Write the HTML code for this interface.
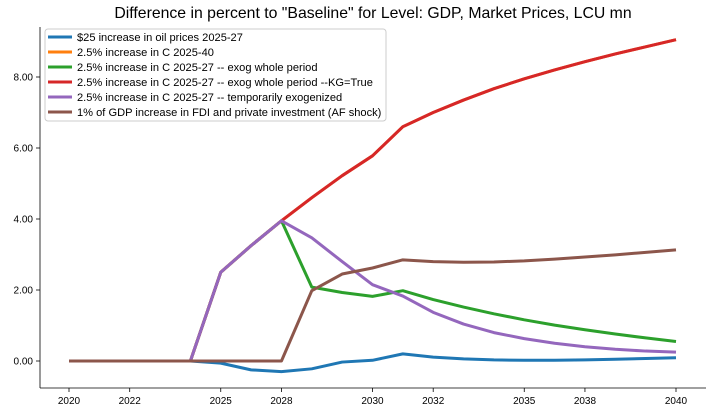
<!DOCTYPE html>
<html><head><meta charset="utf-8"><style>
body{margin:0;background:#fff;}
svg text{font-family:"Liberation Sans",sans-serif;}
</style></head><body>
<svg id="chart" width="712" height="413" xmlns="http://www.w3.org/2000/svg">
<text x="373" y="18" text-anchor="middle" font-size="15.8" fill="#000">Difference in percent to "Baseline" for Level: GDP, Market Prices, LCU mn</text>
<g id="axes"></g>
<g id="series"></g>
<g id="legend"></g>
</svg>
<script>
const years=[2020,2021,2022,2023,2024,2025,2026,2027,2028,2029,2030,2031,2032,2033,2034,2035,2036,2037,2038,2039,2040];
const yTicks=[0,2,4,6,8];
const yTickLabels=["0.00","2.00","4.00","6.00","8.00"];
const xTickVals=[2020,2022,2025,2027,2030,2032,2035,2037,2040];
const xTickLabels=["2020","2022","2025","2028","2030","2032","2035","2038","2040"];
const seriesNames=["$25 increase in oil prices 2025-27","2.5% increase in C 2025-40","2.5% increase in C 2025-27 -- exog whole period","2.5% increase in C 2025-27 -- exog whole period --KG=True","2.5% increase in C 2025-27 -- temporarily exogenized","1% of GDP increase in FDI and private investment (AF shock)"];
const oil=[0,0,0,0,0,-0.06,-0.25,-0.3,-0.22,-0.03,0.02,0.2,0.11,0.06,0.03,0.02,0.02,0.03,0.05,0.07,0.09];
const cLong=[0,0,0,0,0,2.5,3.25,3.95,4.6,5.22,5.78,6.6,7.0,7.35,7.67,7.95,8.2,8.43,8.65,8.85,9.05];
const cExog=[0,0,0,0,0,2.5,3.25,3.95,2.08,1.93,1.82,1.98,1.73,1.52,1.33,1.16,1.01,0.88,0.76,0.65,0.55];
const cKG=[0,0,0,0,0,2.5,3.25,3.95,4.6,5.22,5.78,6.6,7.0,7.35,7.67,7.95,8.2,8.43,8.65,8.85,9.05];
const cTemp=[0,0,0,0,0,2.5,3.25,3.95,3.47,2.8,2.15,1.83,1.37,1.04,0.8,0.63,0.5,0.4,0.33,0.28,0.25];
const fdi=[0,0,0,0,0,0,0,0,1.98,2.45,2.62,2.85,2.8,2.78,2.79,2.82,2.87,2.93,2.99,3.06,3.13];
const colors=["#1f77b4","#ff7f0e","#2ca02c","#d62728","#9467bd","#8c564b"];
const data=[oil,cLong,cExog,cKG,cTemp,fdi];
const NS="http://www.w3.org/2000/svg";
const X=v=>69+(v-2020)*30.35;
const Y=v=>361-v*35.5;
function mk(tag,attrs,parent){const e=document.createElementNS(NS,tag);for(const k in attrs)e.setAttribute(k,attrs[k]);parent.appendChild(e);return e;}
const ax=document.getElementById('axes');
const l1=mk('line',{x1:40,y1:27,x2:40,y2:388,stroke:'#000','stroke-width':0.8},ax);


const l2=mk('line',{x1:40,y1:388,x2:706,y2:388,stroke:'#000','stroke-width':0.8},ax);


yTicks.forEach((v,i)=>{
 mk('line',{x1:36,y1:Y(v),x2:40,y2:Y(v),stroke:'#000','stroke-width':0.8},ax);
 const t=mk('text',{x:33,y:Y(v)+3.5,'text-anchor':'end','font-size':10},ax);
 t.textContent=yTickLabels[i];
 
 
});
xTickVals.forEach((v,i)=>{
 mk('line',{x1:X(v),y1:388,x2:X(v),y2:392,stroke:'#000','stroke-width':0.8},ax);
 const t=mk('text',{x:X(v),y:404,'text-anchor':'middle','font-size':10},ax);
 t.textContent=xTickLabels[i];
 
 
});
const sg=document.getElementById('series');
data.forEach((s,i)=>{
 const p=mk('polyline',{points:s.map((v,j)=>X(years[j])+','+Y(v)).join(' '),fill:'none',stroke:colors[i],'stroke-width':3,'stroke-linejoin':'round'},sg);
 
 
});
const lg=document.getElementById('legend');
const box=mk('rect',{x:45,y:29,width:341,height:92,rx:3,fill:'#fff','fill-opacity':0.8,stroke:'#ccc','stroke-width':1},lg);


seriesNames.forEach((n,i)=>{
 const y=37+i*15;
 mk('line',{x1:48,y1:y,x2:72,y2:y,stroke:colors[i],'stroke-width':3},lg);
 const t=mk('text',{x:77,y:y+4,'font-size':11.1},lg);
 t.textContent=n;
 
 
});
</script>
</body></html>
